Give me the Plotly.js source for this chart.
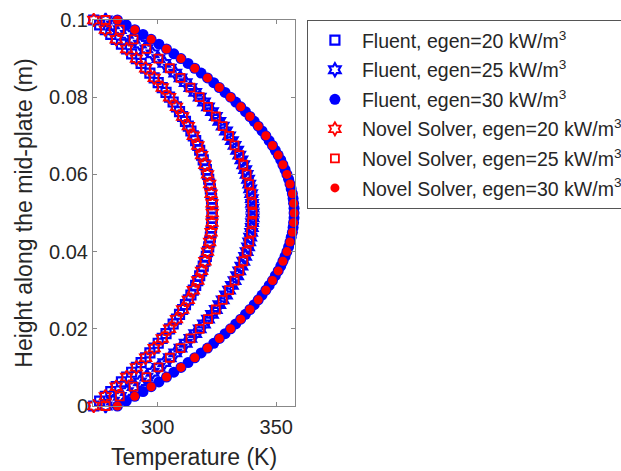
<!DOCTYPE html>
<html>
<head>
<meta charset="utf-8">
<script src="https://cdn.plot.ly/plotly-3.0.1.min.js"></script>
<style>html,body{margin:0;padding:0;background:#fff;}#chart{width:621px;height:471px;}</style>
</head>
<body>
<div id="chart"></div>
<script>
// Height along the mid-plate (m)
const heightFluent = [0,0.00125,0.0025,0.00375,0.005,0.00625,0.0075,0.00875,0.01,0.01125,0.0125,0.01375,0.015,0.01625,0.0175,0.01875,0.02,0.02125,0.0225,0.02375,0.025,0.02625,0.0275,0.02875,0.03,0.03125,0.0325,0.03375,0.035,0.03625,0.0375,0.03875,0.04,0.04125,0.0425,0.04375,0.045,0.04625,0.0475,0.04875,0.05,0.05125,0.0525,0.05375,0.055,0.05625,0.0575,0.05875,0.06,0.06125,0.0625,0.06375,0.065,0.06625,0.0675,0.06875,0.07,0.07125,0.0725,0.07375,0.075,0.07625,0.0775,0.07875,0.08,0.08125,0.0825,0.08375,0.085,0.08625,0.0875,0.08875,0.09,0.09125,0.0925,0.09375,0.095,0.09625,0.0975,0.09875,0.1];
const heightNovel = [0,0.0025,0.005,0.0075,0.01,0.0125,0.015,0.0175,0.02,0.0225,0.025,0.0275,0.03,0.0325,0.035,0.0375,0.04,0.0425,0.045,0.0475,0.05,0.0525,0.055,0.0575,0.06,0.0625,0.065,0.0675,0.07,0.0725,0.075,0.0775,0.08,0.0825,0.085,0.0875,0.09,0.0925,0.095,0.0975,0.1];

// Temperature (K) - Fluent
const fluent20 = [273.0,275.5,277.9,280.2,282.5,284.7,286.9,289.0,291.0,293.0,294.9,296.7,298.5,300.2,301.9,303.5,305.0,306.5,307.9,309.2,310.5,311.7,312.9,314.0,315.0,316.0,316.9,317.7,318.5,319.2,319.9,320.5,321.0,321.5,321.9,322.2,322.5,322.7,322.9,323.0,323.0,323.0,322.9,322.7,322.5,322.2,321.9,321.5,321.0,320.5,319.9,319.2,318.5,317.7,316.9,316.0,315.0,314.0,312.9,311.7,310.5,309.2,307.9,306.5,305.0,303.5,301.9,300.2,298.5,296.7,294.9,293.0,291.0,289.0,286.9,284.7,282.5,280.2,277.9,275.5,273.0];
const fluent25 = [278.0,281.1,284.0,287.0,289.8,292.5,295.2,297.8,300.3,302.8,305.1,307.4,309.6,311.8,313.8,315.8,317.7,319.5,321.2,322.9,324.5,326.0,327.4,328.8,330.1,331.3,332.4,333.5,334.4,335.3,336.1,336.9,337.5,338.1,338.6,339.0,339.4,339.7,339.8,340.0,340.0,340.0,339.8,339.7,339.4,339.0,338.6,338.1,337.5,336.9,336.1,335.3,334.4,333.5,332.4,331.3,330.1,328.8,327.4,326.0,324.5,322.9,321.2,319.5,317.7,315.8,313.8,311.8,309.6,307.4,305.1,302.8,300.3,297.8,295.2,292.5,289.8,287.0,284.0,281.1,278.0];
const fluent30 = [283.0,286.7,290.3,293.8,297.2,300.5,303.7,306.8,309.8,312.8,315.6,318.3,321.0,323.6,326.0,328.4,330.7,332.9,335.0,337.0,338.9,340.7,342.4,344.0,345.6,347.0,348.4,349.6,350.8,351.9,352.8,353.7,354.5,355.2,355.8,356.3,356.8,357.1,357.3,357.5,357.5,357.5,357.3,357.1,356.8,356.3,355.8,355.2,354.5,353.7,352.8,351.9,350.8,349.6,348.4,347.0,345.6,344.0,342.4,340.7,338.9,337.0,335.0,332.9,330.7,328.4,326.0,323.6,321.0,318.3,315.6,312.8,309.8,306.8,303.7,300.5,297.2,293.8,290.3,286.7,283.0];

// Temperature (K) - Novel Solver
const novel20 = [273.0,277.9,282.5,286.9,291.0,294.9,298.5,301.9,305.0,307.9,310.5,312.9,315.0,316.9,318.5,319.9,321.0,321.9,322.5,322.9,323.0,322.9,322.5,321.9,321.0,319.9,318.5,316.9,315.0,312.9,310.5,307.9,305.0,301.9,298.5,294.9,291.0,286.9,282.5,277.9,273.0];
const novel25 = [278.0,284.0,289.8,295.2,300.3,305.1,309.6,313.8,317.7,321.2,324.5,327.4,330.1,332.4,334.4,336.1,337.5,338.6,339.4,339.8,340.0,339.8,339.4,338.6,337.5,336.1,334.4,332.4,330.1,327.4,324.5,321.2,317.7,313.8,309.6,305.1,300.3,295.2,289.8,284.0,278.0];
const novel30 = [283.0,290.3,297.2,303.7,309.8,315.6,321.0,326.0,330.7,335.0,338.9,342.4,345.6,348.4,350.8,352.8,354.5,355.8,356.8,357.3,357.5,357.3,356.8,355.8,354.5,352.8,350.8,348.4,345.6,342.4,338.9,335.0,330.7,326.0,321.0,315.6,309.8,303.7,297.2,290.3,283.0];

const seriesNames = [
  'Fluent, egen=20 kW/m<sup>3</sup>',
  'Fluent, egen=25 kW/m<sup>3</sup>',
  'Fluent, egen=30 kW/m<sup>3</sup>',
  'Novel Solver, egen=20 kW/m<sup>3</sup>',
  'Novel Solver, egen=25 kW/m<sup>3</sup>',
  'Novel Solver, egen=30 kW/m<sup>3</sup>'
];
const xTicks = [300, 350];
const yTicks = [0, 0.02, 0.04, 0.06, 0.08, 0.1];
const yTickText = ['0', '0.02', '0.04', '0.06', '0.08', '0.1'];

const BLUE = '#0000ff', RED = '#ff0000';
function tr(x, y, name, color, symbol, size, lw, grp) {
  return {x: x, y: y, name: name, type: 'scatter', mode: 'markers', legendgroup: grp,
    cliponaxis: false,
    marker: {color: color, symbol: symbol, size: size, line: {color: color, width: lw}}};
}
const data = [
  tr(fluent20, heightFluent, seriesNames[0], BLUE, 'square-open', 9, 2.2, 'a'),
  tr(fluent25, heightFluent, seriesNames[1], BLUE, 'hexagram-open', 10, 2.2, 'b'),
  tr(fluent30, heightFluent, seriesNames[2], BLUE, 'circle', 11, 0, 'c'),
  tr(novel20, heightNovel, seriesNames[3], RED, 'hexagram-open', 10, 1.8, 'd'),
  tr(novel25, heightNovel, seriesNames[4], RED, 'square-open', 8, 1.8, 'e'),
  tr(novel30, heightNovel, seriesNames[5], RED, 'circle', 9, 0, 'f')
];

const font = {family: 'Liberation Sans, Arial, sans-serif', color: '#262626', size: 19};
const layout = {
  width: 621, height: 471,
  margin: {l: 93, r: 326, t: 20, b: 65, autoexpand: false},
  paper_bgcolor: '#fff', plot_bgcolor: '#fff',
  font: font,
  showlegend: true,
  xaxis: {
    range: [272.7, 357.9], tickvals: xTicks, ticktext: xTicks.map(String),
    showgrid: false, zeroline: false, showline: true, mirror: 'ticks',
    linecolor: '#888', linewidth: 1, ticks: 'inside', ticklen: 4, tickcolor: '#888',
    tickfont: {size: 20, color: '#262626'}, ticklabelstandoff: 3,
    title: {text: 'Temperature (K)', font: {size: 23, color: '#262626'}, standoff: 11}
  },
  yaxis: {
    range: [0, 0.1], tickvals: yTicks, ticktext: yTickText,
    showgrid: false, zeroline: false, showline: true, mirror: 'ticks',
    linecolor: '#888', linewidth: 1, ticks: 'inside', ticklen: 4, tickcolor: '#888',
    tickfont: {size: 20, color: '#262626'},
    title: {text: 'Height along the mid-plate (m)', font: {size: 23, color: '#262626'}, standoff: 10}
  },
  legend: {
    x: 1.059, y: 1.0, xanchor: 'left', yanchor: 'top',
    bordercolor: '#555', borderwidth: 1, bgcolor: '#fff',
    font: {size: 19.5, color: '#262626'},
    traceorder: 'grouped', tracegroupgap: 1.2, itemwidth: 44
  }
};
Plotly.newPlot('chart', data, layout, {displayModeBar: false, staticPlot: true});
</script>
</body>
</html>
